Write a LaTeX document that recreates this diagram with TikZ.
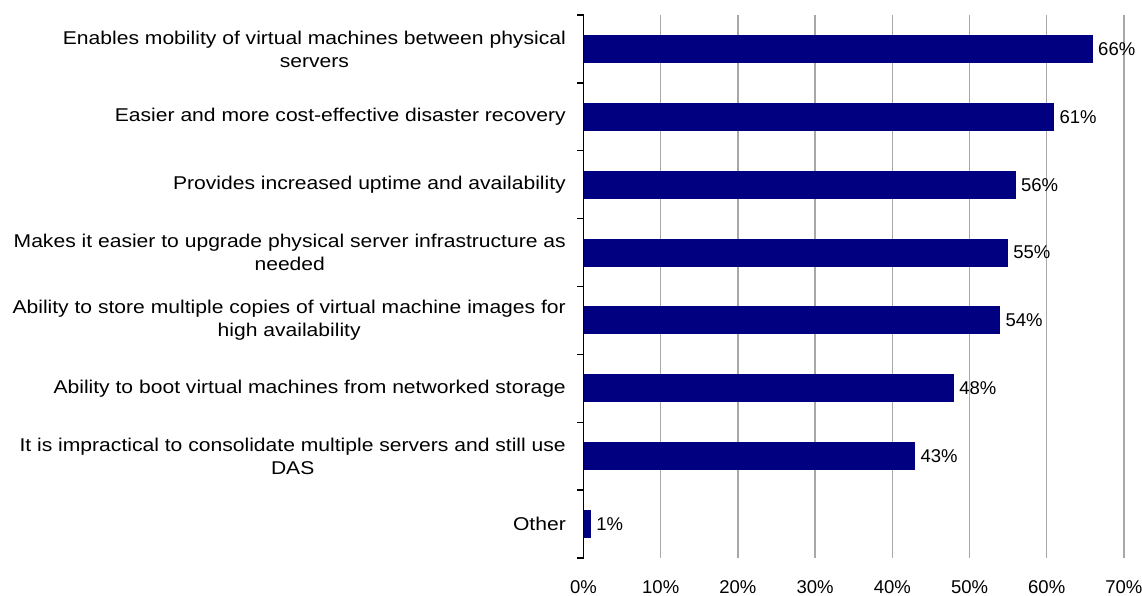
\documentclass[tikz,border=0pt]{standalone}
\usepackage{fontspec}
\setmainfont{Liberation Sans}[FakeStretch=1.14]
\newfontfamily\numfont{Liberation Sans}
\begin{document}
\begin{tikzpicture}[x=1pt,y=-1pt,
  bar/.style={fill=barblue,draw=none},
  grid/.style={draw=gridgray,line width=1.3pt},
  axisline/.style={draw=black,line width=1.4pt},
  cat/.style={anchor=east,align=center,font=\fontsize{18.5}{23}\selectfont,inner sep=0pt},
  val/.style={anchor=west,font=\numfont\fontsize{18.5}{23}\selectfont,inner sep=0pt},
  tick/.style={anchor=center,font=\numfont\fontsize{18.5}{23}\selectfont,inner sep=0pt}]
\definecolor{barblue}{HTML}{000080}
\definecolor{gridgray}{HTML}{A8A8A8}
\useasboundingbox (0,0) rectangle (1142,595);
% scale: 0% at x=583.5, 77.2 per 10%; plot from y=15 to y=558
\def\xz{583.5}
\def\ppp{7.72}
% vertical grid lines and x tick labels
\foreach \p in {1,...,7}{
  \draw[grid] ({\xz+\p*10*\ppp},15) -- ({\xz+\p*10*\ppp},558);
}
\foreach \p in {0,...,7}{
  \pgfmathtruncatemacro{\pc}{\p*10}
  \node[tick] (xl\p) at ({\xz+\p*10*\ppp},587) {\pc\%};
}
% bars, category labels and value labels
\foreach \i/\v/\t in {
  1/66/{Enables mobility of virtual machines between physical\\servers},
  2/61/{Easier and more cost-effective disaster recovery},
  3/56/{Provides increased uptime and availability},
  4/55/{Makes it easier to upgrade physical server infrastructure as\\needed},
  5/54/{Ability to store multiple copies of virtual machine images for\\high availability},
  6/48/{Ability to boot virtual machines from networked storage},
  7/43/{It is impractical to consolidate multiple servers and still use\\DAS},
  8/1/{Other}}{
  \pgfmathsetmacro{\yc}{15+(\i-0.5)*67.875}
  \fill[bar] (\xz,\yc-14) rectangle ({\xz+\v*\ppp},\yc+14);
  \coordinate (b\i) at ({\xz+\v*\ppp},\yc);
  \node[val] (v\i) at ([xshift=5]b\i) {\v\%};
  \node[cat] (c\i) at (566,\yc) {\t};
}
% category axis with tick marks between categories
\draw[axisline] (\xz,15) -- (\xz,558);
\foreach \k in {0,...,8}{
  \draw[axisline] (\xz,{15+\k*67.875}) -- (577,{15+\k*67.875});
}
\end{tikzpicture}
\end{document}
